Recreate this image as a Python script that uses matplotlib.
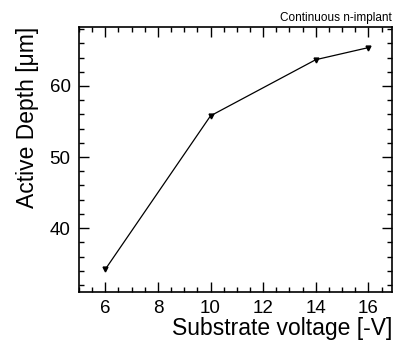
import matplotlib.pyplot as plt
from matplotlib.ticker import MultipleLocator

plt.rcParams['font.family'] = ['Liberation Sans', 'DejaVu Sans']

# substrate voltage vs. active depth
voltage = [6, 10, 14, 16]
depth = [34.2, 55.8, 63.7, 65.4]

fig = plt.figure(figsize=(3.96, 3.44), dpi=100)
ax = fig.add_axes([0.1995, 0.151, 0.7905, 0.7705])

ax.plot(voltage, depth, color='black', lw=0.9, marker='v', ms=3.5)

ax.set_xlim(5, 16.9)
ax.set_ylim(31.0, 68.3)
ax.xaxis.set_major_locator(MultipleLocator(2))
ax.xaxis.set_minor_locator(MultipleLocator(0.5))
ax.yaxis.set_major_locator(MultipleLocator(10))
ax.yaxis.set_minor_locator(MultipleLocator(2))
ax.tick_params(which='both', direction='in', top=True, right=True, width=1)
ax.tick_params(which='major', length=7, labelsize=13.5, pad=6)
ax.tick_params(which='minor', length=3.5)
for s in ax.spines.values():
    s.set_linewidth(1.2)

ax.set_xlabel('Substrate voltage [-V]', fontsize=16.5, loc='right', labelpad=0)
ax.set_ylabel('Active Depth [\u03bcm]', fontsize=16.5, loc='top', labelpad=8)
ax.set_title('Continuous n-implant', fontsize=8.5, loc='right', pad=4)

fig.savefig('out.png', dpi=100)
